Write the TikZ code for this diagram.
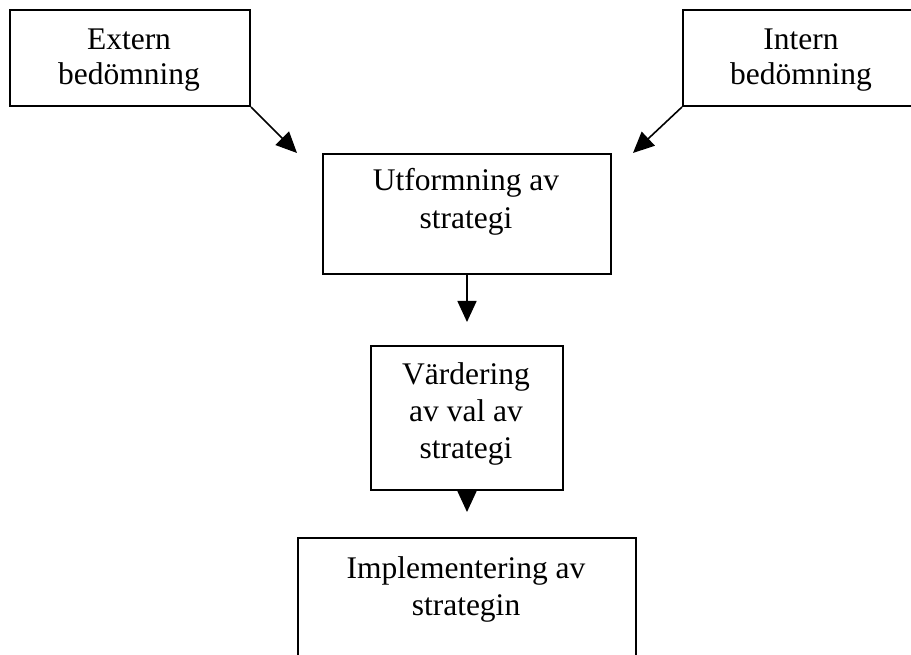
\documentclass[tikz,border=0pt]{standalone}
\usepackage{fontspec}
\setmainfont{Liberation Serif}
\usetikzlibrary{arrows.meta}
\begin{document}
\begin{tikzpicture}[x=1pt,y=-1pt,
  box/.style={draw=black,line width=2pt,rectangle,inner sep=0pt,anchor=north west},
  txt/.style={align=center,anchor=base,inner sep=0pt,font=\fontsize{31.5}{37}\selectfont},
  arr/.style={line width=1.6pt,-{Triangle[width=19pt,length=21pt]}}]
\useasboundingbox (0,0) rectangle (911,655);
\clip (0,0) rectangle (911,655);
\fill[white] (0,0) rectangle (911,655);
% boxes
\node[box,minimum width=240pt,minimum height=96pt] (ext) at (9,9) {};
\node[box,minimum width=240pt,minimum height=96pt] (int) at (682,9) {};
\node[box,minimum width=288pt,minimum height=120pt] (utf) at (322,153) {};
\node[box,minimum width=192pt,minimum height=144pt] (var) at (370,345) {};
\node[box,minimum width=338pt,minimum height=140pt] (imp) at (297,537) {};
% texts (anchored at the baseline of their last line)
\node[txt,font=\fontsize{31.5}{35}\selectfont] (extT) at (129,85) {Extern\\bedömning};
\node[txt,font=\fontsize{31.5}{35}\selectfont] (intT) at (801,85) {Intern\\bedömning};
\node[txt,font=\fontsize{31.5}{38}\selectfont] (utfT) at (466,229) {Utformning av\\strategi};
\node[txt] (varT) at (466,458) {Värdering\\av val av\\strategi};
\node[txt] (impT) at (466,615) {Implementering av\\strategin};
% connector ends
\coordinate (extE) at (297,153);
\coordinate (intE) at (633,153);
\draw[arr] (ext.south east) -- (extE);
\draw[arr] (int.south west) -- (intE);
\draw[arr,shorten >=23pt] (utf.south) -- (var.north);
\draw[arr,shorten >=25pt] (var.south) -- (imp.north);
\end{tikzpicture}
\end{document}
